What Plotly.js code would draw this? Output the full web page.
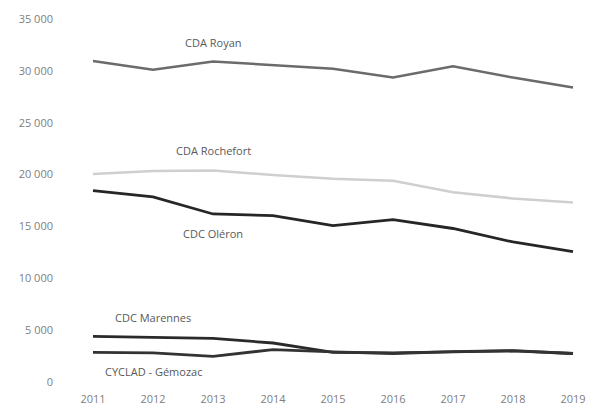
<!DOCTYPE html>
<html><head><meta charset="utf-8">
<script src="https://cdn.plot.ly/plotly-3.0.1.min.js"></script>
<style>html,body{margin:0;padding:0;background:#fff}#c{width:590px;height:407px}</style>
</head><body><div id="c"></div>
<script>
const years = [2011, 2012, 2013, 2014, 2015, 2016, 2017, 2018, 2019];
const royan = [30950, 30100, 30900, 30550, 30200, 29350, 30450, 29350, 28400];
const rochefort = [20050, 20350, 20400, 19950, 19600, 19400, 18300, 17700, 17300];
const oleron = [18450, 17850, 16200, 16050, 15070, 15650, 14800, 13500, 12560];
const marennes = [4400, 4300, 4200, 3760, 2850, 2800, 2900, 3000, 2750];
const cyclad = [2850, 2800, 2480, 3120, 2900, 2750, 2920, 3020, 2750];
const yTicks = [0, 5000, 10000, 15000, 20000, 25000, 30000, 35000];

const series = [
  {name: 'CDA Royan', y: royan, color: '#6b6b6b', w: 2.5, lx: 2013, ly: 32700},
  {name: 'CDA Rochefort', y: rochefort, color: '#cfcfcf', w: 2.5, lx: 2013, ly: 22300},
  {name: 'CDC Oléron', y: oleron, color: '#262626', w: 2.8, lx: 2013, ly: 14300},
  {name: 'CDC Marennes', y: marennes, color: '#2a2a2a', w: 2.8, lx: 2012, ly: 6200},
  {name: 'CYCLAD - Gémozac', y: cyclad, color: '#333333', w: 2.8, lx: 2012, ly: 1000}
];

const traces = series.map(s => ({
  x: years, y: s.y, type: 'scatter', mode: 'lines',
  line: {color: s.color, width: s.w}, hoverinfo: 'skip'
}));
const annotations = series.map(s => ({
  x: s.lx, y: s.ly, text: s.name, showarrow: false,
  font: {family: 'Open Sans, Liberation Sans, sans-serif', size: 11, color: '#595959'}
}));

Plotly.newPlot('c', traces, {
  width: 590, height: 407,
  margin: {l: 60, r: 8, t: 19, b: 25},
  showlegend: false,
  paper_bgcolor: '#fff', plot_bgcolor: '#fff',
  separators: ', ',
  font: {family: 'Open Sans, Liberation Sans, sans-serif', size: 11, color: '#808080'},
  xaxis: {range: [2010.45, 2019.15], tickvals: years, showgrid: false, zeroline: false,
          showline: false, ticks: '', ticklabelstandoff: 9},
  yaxis: {range: [0, 35000], tickvals: yTicks, tickformat: ',d', showgrid: false, zeroline: false,
          showline: false, ticks: '', ticklabelstandoff: 6},
  annotations: annotations
}, {staticPlot: true});
</script></body></html>
